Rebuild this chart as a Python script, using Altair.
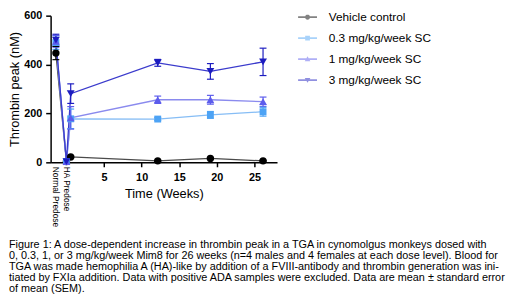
import altair as alt
import pandas as pd
import math

series = ["Vehicle control", "0.3 mg/kg/week SC", "1 mg/kg/week SC", "3 mg/kg/week SC"]
weeks = [-1.4, 0.0, 0.57, 12.14, 19.14, 26.14]
vehicle_mean = [447, 3, 22, 6, 16, 6]
vehicle_sem = [27, 1, 3, 2, 3, 2]
low_mean = [490, 3, 178, 177, 194, 207]
low_sem = [28, 1, 40, 6, 14, 18]
mid_mean = [495, 3, 182, 256, 256, 248]
mid_sem = [24, 1, 46, 15, 18, 19]
high_mean = [500, 3, 281, 407, 372, 411]
high_sem = [24, 1, 40, 14, 32, 56]

marker_colors = ["#000000", "#4da3f5", "#5c5cec", "#1c1cc0"]
line_colors = ["#4a4a4a", "#86bdf5", "#8a8aee", "#3b3bcc"]
marker_shapes = ["circle", "square", "triangle-up", "triangle-down"]
marker_sizes = [56, 49, 64, 64]

LINE_PATH = "M-3.2,-0.3L3.2,-0.3L3.2,0.3L-3.2,0.3Z"
circle_poly = "M" + "L".join(
    f"{0.85 * math.cos(2 * math.pi * k / 16):.3f},{0.85 * math.sin(2 * math.pi * k / 16):.3f}"
    for k in range(16)
) + "Z"
legend_paths = [
    LINE_PATH + " " + circle_poly,
    LINE_PATH + " M-0.8,-0.8L0.8,-0.8L0.8,0.8L-0.8,0.8Z",
    LINE_PATH + " M0,-0.95L0.95,0.7L-0.95,0.7Z",
    LINE_PATH + " M0,0.95L-0.95,-0.7L0.95,-0.7Z",
]
x_tick_values = [5, 10, 15, 20, 25]
y_tick_values = [0, 200, 400, 600]
predose_weeks = [-1.4, 0.0]
predose_labels = ["Normal Predose", "HA Predose"]
caption = [
    "Figure 1: A dose-dependent increase in thrombin peak in a TGA in cynomolgus monkeys dosed with",
    "0, 0.3, 1, or 3 mg/kg/week Mim8 for 26 weeks (n=4 males and 4 females at each dose level). Blood for",
    "TGA was made hemophilia A (HA)-like by addition of a FVIII-antibody and thrombin generation was ini-",
    "tiated by FXIa addition. Data with positive ADA samples were excluded. Data are mean \u00b1 standard error",
    "of mean (SEM).",
]

FONT = "Liberation Sans"
means = [vehicle_mean, low_mean, mid_mean, high_mean]
sems = [vehicle_sem, low_sem, mid_sem, high_sem]
rows = []
for s, m, e in zip(series, means, sems):
    for i, (w, v, d) in enumerate(zip(weeks, m, e)):
        rows.append({"series": s, "week": w, "mean": v, "lo": v - d, "hi": v + d, "idx": i})
df = pd.DataFrame(rows)

xscale = alt.Scale(domain=[-2.1, 28], nice=False, zero=False)
yscale = alt.Scale(domain=[0, 600], nice=False)
cscale = alt.Scale(domain=series, range=marker_colors)
sscale = alt.Scale(domain=series, range=line_colors)

main_x = alt.X(
    "week:Q", scale=xscale,
    axis=alt.Axis(
        orient="bottom", values=x_tick_values, title="Time (Weeks)", grid=False,
        labelFont=FONT, labelFontSize=11, labelFontWeight="bold", labelColor="black",
        labelPadding=5, tickSize=4.5, tickWidth=1.5, tickColor="black",
        domainColor="black", domainWidth=1.5, titleFont=FONT, titleFontSize=13,
        titleFontWeight="normal", titleColor="black", titlePadding=5,
    ),
)
y_enc = alt.Y(
    "mean:Q", scale=yscale,
    axis=alt.Axis(
        orient="left", values=y_tick_values, title="Thrombin peak (nM)", grid=False,
        labelFont=FONT, labelFontSize=11, labelFontWeight="bold", labelColor="black",
        labelPadding=4, tickSize=5, tickWidth=1.5, tickColor="black",
        domainColor="black", domainWidth=1.5, titleFont=FONT, titleFontSize=13,
        titleFontWeight="normal", titleColor="black", titlePadding=2,
    ),
)
x_plain = alt.X("week:Q", scale=xscale, axis=None)
y_plain = alt.Y("mean:Q", scale=yscale, axis=None)

base = alt.Chart(df)

# legend-only layer (first, so its legend settings win); draws no marks
leg_df = pd.DataFrame({"series": series})
legend_props = dict(
    title=None, orient="none", legendX=255, legendY=-4.5, symbolSize=36,
    symbolStrokeWidth=0, labelFont=FONT, labelFontSize=12, labelColor="black",
    labelOffset=15.5, rowPadding=9.3, padding=0,
)
legend_layer = alt.Chart(leg_df).transform_filter("false").mark_point(filled=True).encode(
    fill=alt.Fill("series:N", scale=alt.Scale(domain=series, range=marker_colors),
                  legend=alt.Legend(**legend_props)),
    shape=alt.Shape("series:N", scale=alt.Scale(domain=series, range=legend_paths),
                    legend=alt.Legend(**legend_props)),
)

lines = base.mark_line(strokeWidth=1.3).encode(
    x=main_x, y=y_enc,
    stroke=alt.Stroke("series:N", scale=sscale, legend=None),
    detail="series:N", order="idx:Q",
)

bars = base.mark_rule(strokeWidth=1.2).encode(
    x=x_plain, y=alt.Y("lo:Q", scale=yscale, axis=None), y2="hi:Q",
    color=alt.Color("series:N", scale=cscale, legend=None),
)
cap_lo = base.mark_point(shape="stroke", size=49, strokeWidth=1.2, filled=False, opacity=1).encode(
    x=x_plain, y=alt.Y("lo:Q", scale=yscale, axis=None),
    color=alt.Color("series:N", scale=cscale, legend=None),
)
cap_hi = base.mark_point(shape="stroke", size=49, strokeWidth=1.2, filled=False, opacity=1).encode(
    x=x_plain, y=alt.Y("hi:Q", scale=yscale, axis=None),
    color=alt.Color("series:N", scale=cscale, legend=None),
)

point_layers = []
for s, shp, sz in zip(series, marker_shapes, marker_sizes):
    point_layers.append(
        base.transform_filter(alt.datum.series == s)
        .mark_point(shape=shp, size=sz, filled=True, opacity=1)
        .encode(x=x_plain, y=y_plain, color=alt.Color("series:N", scale=cscale, legend=None))
    )

pre_df = pd.DataFrame({"week": predose_weeks, "label": predose_labels})
label_expr = "datum.value < -1 ? '" + predose_labels[0] + "' : '" + predose_labels[1] + "'"
predose_axis = alt.Chart(pre_df).mark_point(opacity=0).encode(
    x=alt.X(
        "week:Q", scale=xscale,
        axis=alt.Axis(
            orient="bottom", values=predose_weeks, labelExpr=label_expr, title=None,
            grid=False, ticks=False, domain=False, labelAngle=90, labelAlign="left",
            labelBaseline="middle", labelFont=FONT, labelFontSize=8.5, labelColor="black",
            labelPadding=4, labelOverlap=False,
        ),
    ),
)

chart = alt.layer(
    legend_layer, lines, bars, cap_lo, cap_hi, *point_layers, predose_axis
).resolve_axis(x="independent", y="independent").properties(
    width=230, height=149,
    autosize=alt.AutoSizeParams(type="none"),
    padding={"left": 43.3, "top": 5.5, "right": 238.7, "bottom": 133.5},
    title=alt.TitleParams(
        text=caption, orient="bottom", anchor="start", frame="group", dx=-42.3,
        font=FONT, fontSize=11, fontWeight="normal", color="black",
        lineHeight=11.1, offset=13,
    ),
).configure_view(strokeWidth=0)

chart.save("out.html", embed_options={"renderer": "svg", "actions": False})
